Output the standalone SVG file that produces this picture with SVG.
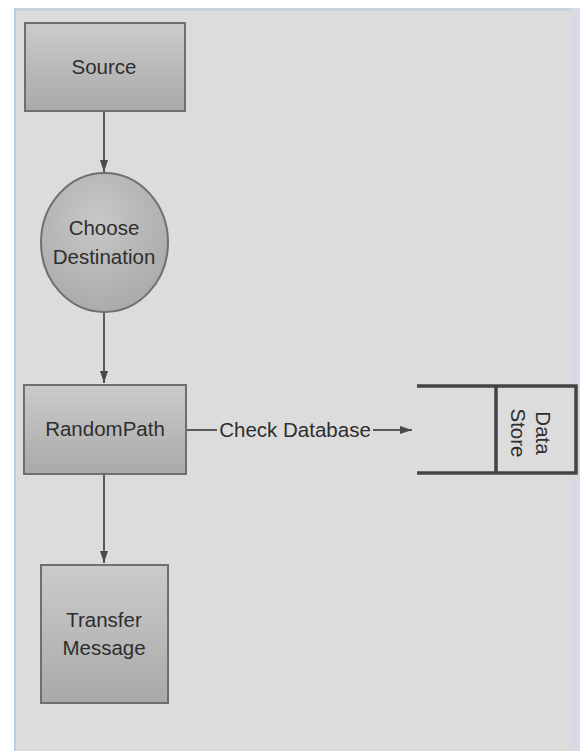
<svg xmlns="http://www.w3.org/2000/svg" width="582" height="751" viewBox="0 0 582 751">
<defs>
<linearGradient id="g" x1="0" y1="0" x2="0" y2="1">
<stop offset="0" stop-color="#cbcbcb"/>
<stop offset="1" stop-color="#a9a9a9"/>
</linearGradient>
<radialGradient id="rg" cx="0.45" cy="0.35" r="0.75">
<stop offset="0" stop-color="#c8c8c8"/>
<stop offset="1" stop-color="#a6a6a6"/>
</radialGradient>
<marker id="arr" viewBox="0 0 12 8" refX="12" refY="4" markerWidth="12" markerHeight="8" markerUnits="userSpaceOnUse" orient="auto">
<path d="M0,0 L12,4 L0,8 Z" fill="#4a4a4a"/>
</marker>
<style>
.node{fill:url(#g);stroke:#6f6f6f;stroke-width:2}
.lbl{font-family:"Liberation Sans",Arial,sans-serif;font-size:20.5px;fill:#2e2e2e;text-anchor:middle}
.edge{stroke:#5a5a5a;stroke-width:2;fill:none}
.ds{stroke:#444;stroke-width:3.5;fill:none}
</style>
</defs>
<rect x="0" y="0" width="582" height="751" fill="#ffffff"/>
<rect x="14" y="8" width="562" height="743" fill="#dcdcdc"/>
<rect x="14" y="8" width="562" height="3" fill="#c9d3dc"/>
<rect x="14" y="8" width="2" height="743" fill="#b9cde0"/>
<rect x="572" y="8" width="8" height="743" fill="#d4dbe3"/>
<g id="connectors">
<line class="edge" x1="104" y1="112" x2="104" y2="172" marker-end="url(#arr)"/>
<line class="edge" x1="104" y1="312" x2="104" y2="383" marker-end="url(#arr)"/>
<line class="edge" x1="104" y1="475" x2="104" y2="563" marker-end="url(#arr)"/>
<line class="edge" x1="187" y1="430" x2="217" y2="430"/>
<line class="edge" x1="373" y1="430" x2="412" y2="430" marker-end="url(#arr)"/>
<text class="lbl" x="295" y="437">Check Database</text>
</g>
<g id="source">
<rect class="node" x="25" y="23" width="160" height="88"/>
<text class="lbl" x="104" y="74">Source</text>
</g>
<g id="choose-destination">
<ellipse cx="104.5" cy="242.5" rx="63.5" ry="69.5" fill="url(#rg)" stroke="#6f6f6f" stroke-width="2"/>
<text class="lbl" x="104" y="235">Choose</text>
<text class="lbl" x="104" y="264">Destination</text>
</g>
<g id="randompath">
<rect class="node" x="24" y="385" width="162" height="89"/>
<text class="lbl" x="105" y="436">RandomPath</text>
</g>
<g id="transfer-message">
<rect class="node" x="41" y="565" width="127" height="138"/>
<text class="lbl" x="104" y="627">Transfer</text>
<text class="lbl" x="104" y="655">Message</text>
</g>
<g id="data-store">
<path class="ds" d="M417,386 L576,386 L576,473 L417,473"/>
<line class="ds" x1="496" y1="386" x2="496" y2="473"/>
<text class="lbl" transform="translate(536,433) rotate(90)" x="0" y="0">Data</text>
<text class="lbl" transform="translate(511,433) rotate(90)" x="0" y="0">Store</text>
</g>
</svg>
